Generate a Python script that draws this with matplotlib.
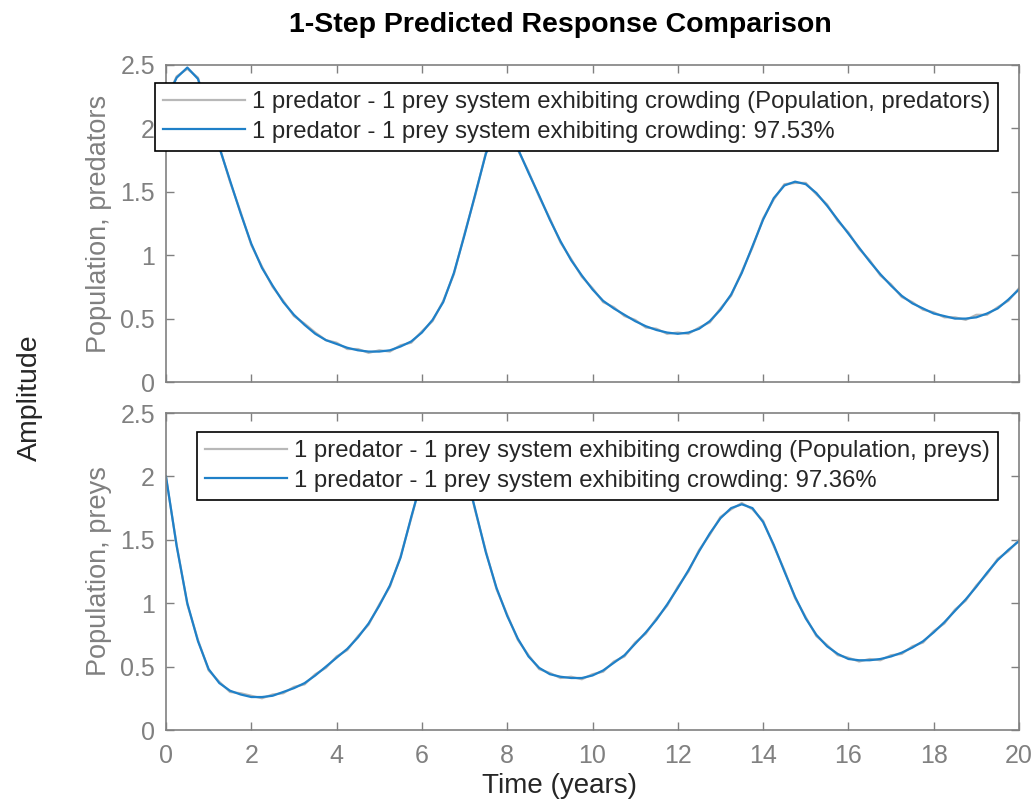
import matplotlib
matplotlib.use("Agg")
import matplotlib.pyplot as plt

plt.rcParams['font.family'] = ['Liberation Sans', 'DejaVu Sans']

# ---- data ----
time = [i * 0.25 for i in range(81)]

pred_predicted = [2.22, 2.40, 2.48, 2.39, 2.12, 1.85, 1.59, 1.33, 1.09, 0.90,
                  0.76, 0.63, 0.53, 0.45, 0.38, 0.33, 0.30, 0.27, 0.25, 0.24,
                  0.24, 0.25, 0.28, 0.32, 0.39, 0.49, 0.63, 0.86, 1.16, 1.48,
                  1.80, 1.99, 2.03, 1.84, 1.65, 1.47, 1.28, 1.11, 0.96, 0.84,
                  0.73, 0.64, 0.58, 0.53, 0.48, 0.44, 0.41, 0.39, 0.38, 0.39,
                  0.42, 0.48, 0.57, 0.69, 0.86, 1.07, 1.28, 1.45, 1.55, 1.58,
                  1.56, 1.49, 1.39, 1.28, 1.17, 1.06, 0.95, 0.85, 0.76, 0.68,
                  0.62, 0.58, 0.54, 0.52, 0.50, 0.50, 0.51, 0.54, 0.58, 0.65,
                  0.73]
pred_measured = [2.23, 2.41, 2.47, 2.40, 2.11, 1.86, 1.58, 1.34, 1.08, 0.91,
                 0.75, 0.64, 0.52, 0.46, 0.39, 0.33, 0.31, 0.26, 0.26, 0.23,
                 0.25, 0.24, 0.29, 0.31, 0.40, 0.48, 0.64, 0.85, 1.17, 1.47,
                 1.81, 1.98, 2.04, 1.83, 1.66, 1.46, 1.29, 1.10, 0.97, 0.83,
                 0.74, 0.63, 0.59, 0.52, 0.49, 0.43, 0.42, 0.38, 0.39, 0.38,
                 0.43, 0.47, 0.58, 0.68, 0.87, 1.06, 1.29, 1.44, 1.56, 1.57,
                 1.57, 1.48, 1.40, 1.27, 1.18, 1.05, 0.96, 0.84, 0.77, 0.67,
                 0.63, 0.57, 0.55, 0.51, 0.51, 0.49, 0.53, 0.53, 0.59, 0.64,
                 0.74]

prey_predicted = [2.00, 1.45, 1.00, 0.70, 0.48, 0.37, 0.31, 0.28, 0.26, 0.26,
                  0.27, 0.30, 0.33, 0.37, 0.43, 0.50, 0.57, 0.64, 0.73, 0.84,
                  0.98, 1.14, 1.36, 1.68, 1.98, 2.21, 2.33, 2.28, 2.07, 1.74,
                  1.40, 1.12, 0.90, 0.72, 0.58, 0.49, 0.44, 0.42, 0.41, 0.41,
                  0.43, 0.47, 0.53, 0.59, 0.68, 0.77, 0.87, 0.99, 1.12, 1.26,
                  1.41, 1.55, 1.67, 1.75, 1.78, 1.75, 1.64, 1.46, 1.25, 1.05,
                  0.88, 0.75, 0.66, 0.60, 0.56, 0.55, 0.55, 0.56, 0.58, 0.61,
                  0.65, 0.70, 0.77, 0.85, 0.94, 1.03, 1.13, 1.24, 1.34, 1.42,
                  1.49]
prey_measured = [1.99, 1.46, 0.99, 0.71, 0.47, 0.38, 0.30, 0.29, 0.27, 0.25,
                 0.28, 0.29, 0.34, 0.36, 0.44, 0.49, 0.58, 0.63, 0.74, 0.83,
                 0.99, 1.13, 1.37, 1.67, 1.99, 2.20, 2.34, 2.27, 2.08, 1.73,
                 1.41, 1.11, 0.91, 0.71, 0.59, 0.48, 0.45, 0.41, 0.42, 0.40,
                 0.44, 0.46, 0.54, 0.58, 0.69, 0.76, 0.88, 0.98, 1.13, 1.25,
                 1.42, 1.54, 1.68, 1.74, 1.79, 1.74, 1.65, 1.45, 1.26, 1.04,
                 0.89, 0.74, 0.67, 0.59, 0.57, 0.54, 0.56, 0.55, 0.59, 0.60,
                 0.66, 0.69, 0.78, 0.84, 0.95, 1.02, 1.14, 1.23, 1.35, 1.41,
                 1.50]

labels_top = ["1 predator - 1 prey system exhibiting crowding (Population, predators)",
              "1 predator - 1 prey system exhibiting crowding: 97.53%"]
labels_bot = ["1 predator - 1 prey system exhibiting crowding (Population, preys)",
              "1 predator - 1 prey system exhibiting crowding: 97.36%"]
yticks = [0, 0.5, 1, 1.5, 2, 2.5]
ytick_labels = ["0", "0.5", "1", "1.5", "2", "2.5"]
xticks = [0, 2, 4, 6, 8, 10, 12, 14, 16, 18, 20]

# ---- figure ----
W, H = 1036, 801
fig = plt.figure(figsize=(W / 100, H / 100), dpi=100)
GRAY = '#808080'
BLUE = '#1f80c8'
MEAS = '#b8b8b8'

def fx(px):
    return px / W

def fy(py):
    return 1 - py / H

ax1 = fig.add_axes([fx(166), fy(382), fx(1019) - fx(166), fy(65) - fy(382)])
ax2 = fig.add_axes([fx(166), fy(730), fx(1019) - fx(166), fy(413) - fy(730)])

for ax, meas, pred, labs, ylab, leg_xy in [
        (ax1, pred_measured, pred_predicted, labels_top, "Population, predators", (155, 83)),
        (ax2, prey_measured, prey_predicted, labels_bot, "Population, preys", (197, 432))]:
    l1, = ax.plot(time, meas, color=MEAS, lw=1.6)
    l2, = ax.plot(time, pred, color=BLUE, lw=1.6)
    ax.set_xlim(0, 20)
    ax.set_ylim(0, 2.5)
    ax.set_yticks(yticks)
    ax.set_yticklabels(ytick_labels)
    ax.set_xticks(xticks)
    for s in ax.spines.values():
        s.set_color(GRAY)
        s.set_linewidth(1.2)
    ax.tick_params(direction='in', length=6, width=1.0, color=GRAY,
                   labelcolor=GRAY, labelsize=18, top=True, right=True)
    ax.tick_params(axis='y', pad=8)
    ax.tick_params(axis='x', pad=10)
    ax.set_ylabel(ylab, fontsize=19.5, color=GRAY, labelpad=6)
    leg = ax.legend([l1, l2], labs, loc='upper left',
                    bbox_to_anchor=(fx(leg_xy[0]), fy(leg_xy[1])),
                    bbox_transform=fig.transFigure, borderaxespad=0,
                    fontsize=17.2, frameon=True, fancybox=False,
                    handlelength=3.4, handletextpad=0.3, labelspacing=0.3,
                    borderpad=0.35)
    leg.get_frame().set_edgecolor('black')
    leg.get_frame().set_linewidth(1.2)
    leg.get_frame().set_alpha(1)
    for t in leg.get_texts():
        t.set_color('#262626')

ax1.tick_params(labelbottom=False)

fig.text(fx(560), fy(25), "1-Step Predicted Response Comparison", ha='center', va='center',
         fontsize=20.5, fontweight='bold', color='black')
fig.text(fx(560), fy(793), "Time (years)", ha='center', va='baseline', fontsize=20, color='#262626')
fig.text(fx(30), fy(398), "Amplitude", ha='center', va='center', rotation=90, fontsize=20.5, color='#262626')

fig.savefig("out.png", dpi=100)
